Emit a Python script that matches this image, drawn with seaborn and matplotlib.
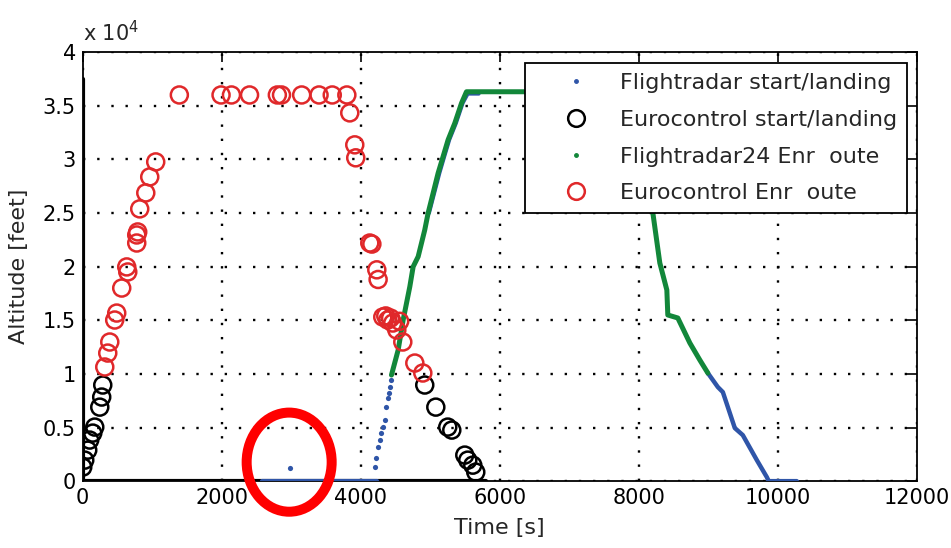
import numpy as np
import matplotlib.pyplot as plt
import seaborn as sns
from matplotlib.patches import Ellipse
from matplotlib.lines import Line2D

# Eurocontrol en-route (red circles)
euro_enr_x = [317, 360, 389, 460, 489, 561, 633, 648, 777, 777, 791, 820, 907, 964, 1050,
              1390, 1990, 2140, 2400, 2800, 2860, 3150, 3400, 3590, 3800,
              3842, 3914, 3928, 4130, 4160, 4231, 4250, 4317, 4360, 4389, 4430, 4461,
              4519, 4560, 4605, 4778, 4893]
euro_enr_y = [10640, 11940, 12970, 15020, 15670, 18000, 19970, 19500, 22200, 22950, 23230,
              25380, 26870, 28360, 29760,
              36000, 36000, 36000, 36000, 36000, 36000, 36000, 36000, 36000, 36000,
              34330, 31350, 30140, 22200, 22100, 19700, 18800, 15300, 15400, 15020, 15200,
              14740, 14090, 14900, 12970, 11010, 10080]

# Eurocontrol start/landing (black circles)
euro_sl_x = [0, 29, 72, 100, 144, 173, 245, 273, 288,
             4921, 5080, 5252, 5310, 5497, 5540, 5612, 5655]
euro_sl_y = [1306, 1960, 2890, 3830, 4480, 5040, 6900, 7840, 8960,
             8960, 6900, 5040, 4760, 2430, 1960, 1490, 840]

# Flightradar24 en-route (green)
fr24_x = [4442, 4538, 4610, 4706, 4754, 4826, 4921, 4969, 5041, 5113, 5185, 5257, 5353,
          5450, 5521, 7950, 8203, 8303, 8404, 8418, 8562, 8735, 8879, 8994]
fr24_y = [9890, 12220, 15020, 18130, 19990, 20930, 23420, 24980, 26840, 28710, 30260,
          31820, 33370, 35240, 36300, 36300, 25000, 20340, 17820, 15490, 15210, 12880,
          11290, 10080]

# Flightradar start/landing (blue)
fr_ground_x = [2575, 4230]
fr_ground_y = [0, 0]
fr_blip_x = [2980]
fr_blip_y = [1200]
fr_climb_x = [4202, 4226, 4250, 4274, 4298, 4322, 4346, 4370, 4394, 4408, 4428, 4442]
fr_climb_y = [1340, 2115, 3200, 3830, 4450, 5070, 5690, 6930, 7720, 8180, 8800, 9420]
fr_upper_x = [4985, 5135, 5205, 5277, 5373, 5470, 5541, 5700]
fr_upper_y = [24980, 28710, 30260, 31820, 33370, 35240, 36100, 36100]
fr_desc_x = [8994, 9138, 9210, 9282, 9382, 9497, 9699, 9843, 9870, 10274]
fr_desc_y = [10080, 8770, 8300, 6900, 4950, 4290, 1960, 370, 0, 0]

# heavy black trace along the axes
ground_x = [0, 0, 5800]
ground_y = [37500, 0, 0]

xticks = [0, 2000, 4000, 6000, 8000, 10000, 12000]
yticks = [0, 5000, 10000, 15000, 20000, 25000, 30000, 35000, 40000]
ytick_labels = ['0', '0.5', '1', '1.5', '2', '2.5', '3', '3.5', '4']
legend_labels = ['Flightradar start/landing', 'Eurocontrol start/landing',
                 'Flightradar24 Enr  oute', 'Eurocontrol Enr  oute']

blue = '#2f55a8'
green = '#12873a'
red = '#e0282a'

sns.set_style('white')
plt.rcParams['font.family'] = ['DejaVu Sans']

fig = plt.figure(figsize=(9.51, 5.48), dpi=100)
ax = fig.add_axes([0.087, 0.122, 0.877, 0.783])

ax.grid(True, color='black', linestyle=(0, (1, 5)), linewidth=1.7)
ax.set_axisbelow(True)

sns.lineplot(x=ground_x, y=ground_y, sort=False, estimator=None, color='black',
             lw=3, ax=ax, zorder=2)
sns.lineplot(x=fr_ground_x, y=fr_ground_y, sort=False, estimator=None, color=blue,
             lw=3, ax=ax, zorder=3)
sns.lineplot(x=fr_upper_x, y=fr_upper_y, sort=False, estimator=None, color=blue,
             lw=2.5, ax=ax, zorder=3)
sns.lineplot(x=fr_desc_x, y=fr_desc_y, sort=False, estimator=None, color=blue,
             lw=3.2, ax=ax, zorder=3)
sns.scatterplot(x=fr_climb_x + fr_blip_x, y=fr_climb_y + fr_blip_y, color=blue,
                s=14, linewidth=0, ax=ax, zorder=3)
sns.lineplot(x=fr24_x, y=fr24_y, sort=False, estimator=None, color=green,
             lw=3.6, ax=ax, zorder=4)
sns.scatterplot(x=euro_sl_x, y=euro_sl_y, marker='o', s=150, facecolors='none',
                edgecolors='black', linewidth=1.8, ax=ax, zorder=5)
sns.scatterplot(x=euro_enr_x, y=euro_enr_y, marker='o', s=150, facecolors='none',
                edgecolors=red, linewidth=1.8, ax=ax, zorder=5)

ax.set_xlim(0, 12000)
ax.set_ylim(0, 40000)
ax.set_xticks(xticks)
ax.set_xticklabels([str(t) for t in xticks])
ax.set_yticks(yticks)
ax.set_yticklabels(ytick_labels)
ax.tick_params(direction='in', length=7, width=1.2, labelsize=15, pad=5,
               top=True, right=True, colors='black')
for sp in ax.spines.values():
    sp.set_color('black')
    sp.set_linewidth(1.3)

ax.set_xlabel('Time [s]', fontsize=16, labelpad=7)
ax.set_ylabel('Altitude [feet]', fontsize=16, labelpad=10)
ax.text(0, 1.015, 'x 10$^4$', transform=ax.transAxes, fontsize=15,
        ha='left', va='bottom')

handles = [
    Line2D([], [], linestyle='none', marker='.', ms=5, color=blue),
    Line2D([], [], linestyle='none', marker='o', ms=12, mfc='none', mec='black', mew=1.8),
    Line2D([], [], linestyle='none', marker='.', ms=5, color=green),
    Line2D([], [], linestyle='none', marker='o', ms=12, mfc='none', mec=red, mew=1.8),
]
leg = ax.legend(handles, legend_labels, loc='upper right', bbox_to_anchor=(0.988, 0.974),
                borderaxespad=0, fontsize=16, frameon=True, fancybox=False,
                framealpha=1, edgecolor='black', labelspacing=0.75,
                handletextpad=0.1, borderpad=0.45, handlelength=3.7)
leg.get_frame().set_linewidth(1.3)
leg.set_zorder(10)

# red highlight ring
ring = Ellipse((2970, 1770), width=1223, height=9240, fill=False, edgecolor='#ff0000',
               linewidth=7.2, clip_on=False, zorder=20)
ax.add_patch(ring)

fig.savefig('out.png', dpi=100)
